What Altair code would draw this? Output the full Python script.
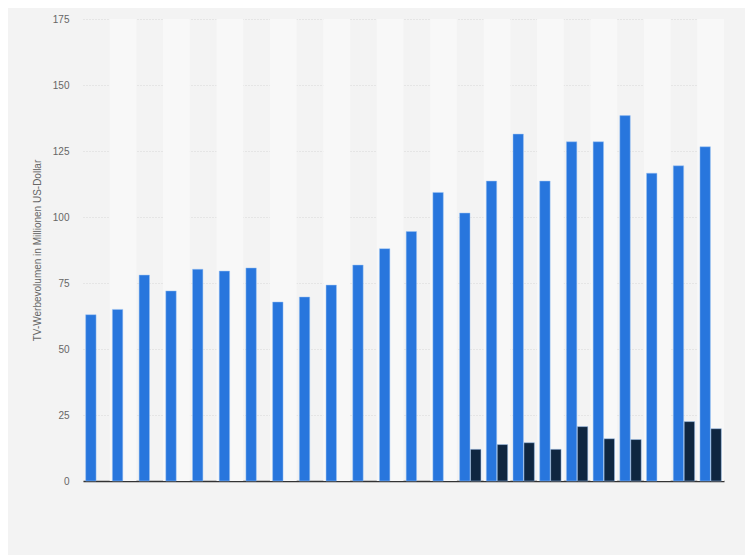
import altair as alt
import pandas as pd

categories = [f"K{i:02d}" for i in range(1, 25)]
blue_values = [63, 65, 78, 72, 80.2, 79.5, 80.7, 67.8, 69.7, 74.2, 81.8, 88, 94.5, 109.3,
               101.5, 113.6, 131.4, 113.6, 128.5, 128.5, 138.4, 116.6, 119.4, 126.6]
dark_values = [None] * 14 + [12.0, 13.8, 14.5, 12.0, 20.6, 16.0, 15.7, None, 22.5, 19.8]

rows = []
for c, b, d in zip(categories, blue_values, dark_values):
    rows.append({"cat": c, "series": "A", "value": b})
    if d is not None:
        rows.append({"cat": c, "series": "B", "value": d})
df = pd.DataFrame(rows)

stripes = pd.DataFrame({"cat": categories[1::2], "top": [175] * len(categories[1::2])})

y_scale = alt.Scale(domain=[0, 175], nice=False, zero=True)
x_scale = alt.Scale(domain=categories, paddingInner=0.2, paddingOuter=0.1)

stripe_layer = alt.Chart(stripes).mark_bar(color="#f8f8f8").encode(
    x=alt.X("cat:N", scale=alt.Scale(domain=categories, paddingInner=0, paddingOuter=0), axis=None),
    y=alt.Y("top:Q", scale=y_scale),
)

bars = alt.Chart(df).mark_bar(strokeWidth=0.8, strokeOpacity=0.6, stroke="#9cc3f5").encode(
    x=alt.X("cat:N", scale=x_scale, axis=alt.Axis(labels=False, ticks=False, title=None,
                                                 domain=True, domainColor="#333333", domainWidth=1.5,
                                                 grid=False)),
    xOffset=alt.XOffset("series:N", scale=alt.Scale(domain=["A", "B"], paddingInner=0.05)),
    y=alt.Y("value:Q", scale=y_scale,
            axis=alt.Axis(values=[0, 25, 50, 75, 100, 125, 150, 175], title="TV-Werbevolumen in Millionen US-Dollar",
                          titleColor="#666666", titleFontWeight="normal", titleFontSize=10,
                          titleFont="Arial", labelFont="Arial", labelFontSize=10, labelColor="#666666",
                          labelPadding=14, titlePadding=10, domain=False, ticks=False,
                          gridColor="#d6d6d6", gridDash=[1, 2], gridWidth=1)),
    color=alt.Color("series:N", scale=alt.Scale(domain=["A", "B"], range=["#2876dd", "#0f2640"]), legend=None),
)

chart = alt.layer(stripe_layer, bars).resolve_scale(x="independent").properties(
    width=641, height=462,
    background="#f3f3f3",
    padding={"left": 24, "top": 6, "right": 21, "bottom": 69},
).configure_view(stroke=None)

chart.save("out.html", embed_options={"renderer": "svg", "actions": False})
